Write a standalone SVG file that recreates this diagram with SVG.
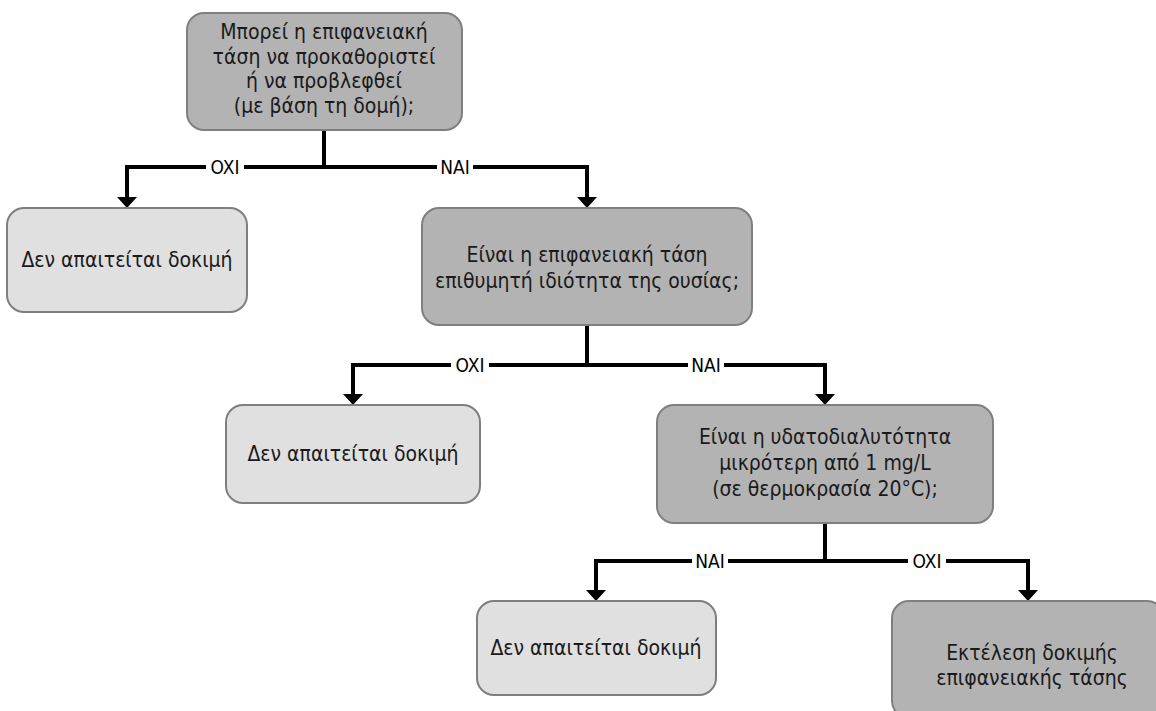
<svg xmlns="http://www.w3.org/2000/svg" width="1156" height="711" viewBox="0 0 1156 711">
<style>
.dark{fill:#b3b3b3;stroke:#7f7f7f;stroke-width:2}
.light{fill:#e0e0e0;stroke:#7f7f7f;stroke-width:2}
.t{font-family:"DejaVu Sans Condensed","DejaVu Sans",sans-serif;font-stretch:condensed;font-size:21px;fill:#1a1a1a;text-anchor:middle}
.c{fill:none;stroke:#000;stroke-width:4}
.lb{fill:#fff}
.l{font-family:"DejaVu Sans Condensed","DejaVu Sans",sans-serif;font-stretch:condensed;font-size:19px;fill:#000;text-anchor:middle;dominant-baseline:central}
</style>
<defs>
<marker id="ah" viewBox="0 0 11 20" refX="0" refY="10" markerWidth="11" markerHeight="20" markerUnits="userSpaceOnUse" orient="auto">
<path d="M0,0 L11,10 L0,20 z" fill="#000"/>
</marker>
</defs>
<rect width="1156" height="711" fill="#fff"/>
<g id="connectors">
<path class="c" d="M324,130 V167"/>
<path class="c" d="M324,167 H127 V197" marker-end="url(#ah)"/>
<path class="c" d="M324,167 H587 V197" marker-end="url(#ah)"/>
<path class="c" d="M587,325 V365"/>
<path class="c" d="M587,365 H353 V394" marker-end="url(#ah)"/>
<path class="c" d="M587,365 H825 V394" marker-end="url(#ah)"/>
<path class="c" d="M825,523 V561"/>
<path class="c" d="M825,561 H596 V590" marker-end="url(#ah)"/>
<path class="c" d="M825,561 H1028 V590" marker-end="url(#ah)"/>
<rect class="lb" x="206" y="157" width="38" height="20"/>
<text class="l" x="225" y="167">OXI</text>
<rect class="lb" x="437" y="157" width="36" height="20"/>
<text class="l" x="455" y="167">NAI</text>
<rect class="lb" x="451" y="355" width="38" height="20"/>
<text class="l" x="470" y="365">OXI</text>
<rect class="lb" x="688" y="355" width="36" height="20"/>
<text class="l" x="706" y="365">NAI</text>
<rect class="lb" x="692" y="551" width="36" height="20"/>
<text class="l" x="710" y="561">NAI</text>
<rect class="lb" x="908" y="551" width="38" height="20"/>
<text class="l" x="927" y="561">OXI</text>
</g>
<g id="n1">
<rect class="dark" x="187" y="13" width="275" height="117" rx="17"/>
<text class="t" x="324" y="39">Μπορεί η επιφανειακή</text>
<text class="t" x="324" y="63.5">τάση να προκαθοριστεί</text>
<text class="t" x="324" y="88">ή να προβλεφθεί</text>
<text class="t" x="324" y="112.5">(με βάση τη δομή);</text>
</g>
<g id="n2">
<rect class="light" x="7" y="208" width="240" height="104" rx="17"/>
<text class="t" x="127" y="267">Δεν απαιτείται δοκιμή</text>
</g>
<g id="n3">
<rect class="dark" x="422" y="208" width="330" height="117" rx="17"/>
<text class="t" x="587" y="262">Είναι η επιφανειακή τάση</text>
<text class="t" x="587" y="288">επιθυμητή ιδιότητα της ουσίας;</text>
</g>
<g id="n4">
<rect class="light" x="226" y="405" width="254" height="98" rx="17"/>
<text class="t" x="353" y="461">Δεν απαιτείται δοκιμή</text>
</g>
<g id="n5">
<rect class="dark" x="657" y="405" width="336" height="118" rx="17"/>
<text class="t" x="825" y="444">Είναι η υδατοδιαλυτότητα</text>
<text class="t" x="825" y="470">μικρότερη από 1 mg/L</text>
<text class="t" x="825" y="496">(σε θερμοκρασία 20°C);</text>
</g>
<g id="n6">
<rect class="light" x="477" y="601" width="239" height="94" rx="17"/>
<text class="t" x="596" y="655">Δεν απαιτείται δοκιμή</text>
</g>
<g id="n7">
<rect class="dark" x="892" y="601" width="272" height="117" rx="17"/>
<text class="t" x="1032" y="660">Εκτέλεση δοκιμής</text>
<text class="t" x="1032" y="685">επιφανειακής τάσης</text>
</g>
</svg>
